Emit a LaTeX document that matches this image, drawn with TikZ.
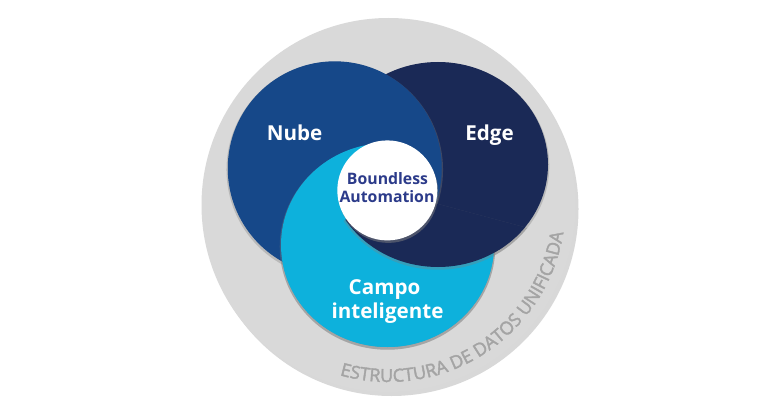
\documentclass[tikz,border=0pt]{standalone}
\usepackage{fontspec}
\setmainfont{Open Sans}
\newfontfamily\ringfont{Open Sans}[FakeBold=2]
\usepackage{tikz}
\usetikzlibrary{shadows}
\usetikzlibrary{decorations.text}

\definecolor{ringgray}{HTML}{D9D9D9}
\definecolor{ringtext}{HTML}{A4A4A4}
\definecolor{nubeblue}{HTML}{164889}
\definecolor{edgenavy}{HTML}{1A2956}
\definecolor{campocyan}{HTML}{0DB1DC}
\definecolor{coreblue}{HTML}{2C3B8A}

% the three sets, each one touches the white centre from inside
\newcommand\fillnube[1][]{\fill[nubeblue,#1] (334.75,233.69) circle[radius=107];}
\newcommand\filledge[1][]{\fill[edgenavy,#1] (438,237.5) ellipse[x radius=110,y radius=102.5];}
\newcommand\fillcampo[1][]{\fill[campocyan,#1] (387.5,157) ellipse[x radius=106.5,y radius=102];}

\begin{document}
\begin{tikzpicture}[x=1pt,y=1pt,
	rim/.style={drop shadow={shadow xshift=0pt,shadow yshift=-1.5pt,shadow scale=1.012,opacity=.35}},
	setname/.style={text=white,font=\bfseries\fontsize{20.6}{24}\selectfont,anchor=base},
	core/.style={text=coreblue,font=\bfseries\fontsize{15.8}{18}\selectfont,anchor=base}]
	\useasboundingbox (0,0) rectangle (770,402);
	\fill[white] (0,0) rectangle (770,402);
	\coordinate (o) at (387.3,211.6);
	
	% outer ring
	\fill[ringgray,drop shadow={shadow xshift=3pt,shadow yshift=-4pt,opacity=.3}] (388.5,197) circle[radius=187];
	\path[decorate,decoration={text along path,text align=center,text color=ringtext,
		text={|\ringfont\fontsize{18}{18}\selectfont|ESTRUCTURA DE DATOS UNIFICADA}}]
		(388.5,197) ++(-107:177) arc[start angle=-107,end angle=-8,radius=177];
	
	% swirl: Nube on top first, then Campo and Edge brought up in their own sectors
	\fillcampo[rim] \filledge[rim] \fillnube[rim]
	\begin{scope}
		\clip (o) -- ++(115:800) arc[start angle=115,end angle=337.2,radius=800] -- cycle;
		\fillcampo[rim]
	\end{scope}
	\begin{scope}
		\clip (o) -- ++(215:800) arc[start angle=215,end angle=345,radius=800] -- cycle;
		\filledge[rim]
	\end{scope}
	
	% centre
	\fill[white,drop shadow={shadow xshift=1pt,shadow yshift=-2.5pt,opacity=.5}] (o) circle[radius=50];
	
	\node[setname] (nube) at (294.5,261.3) {Nube};
	\node[setname] (edge) at (489.5,261) {Edge};
	\node[setname] (campo) at (384.5,108) {Campo};
	\node[setname] (intel) at (387.5,83.7) {inteligente};
	\node[core] (bound) at (387.5,218) {Boundless};
	\node[core] (autom) at (387,199.7) {Automation};
\end{tikzpicture}
\end{document}
